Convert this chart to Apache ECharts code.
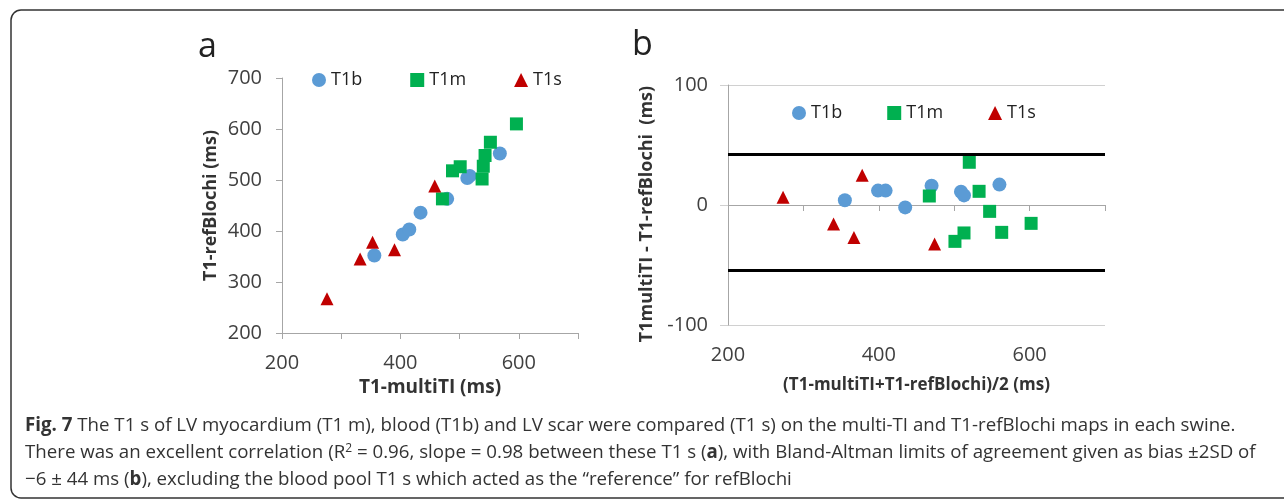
<!DOCTYPE html>
<html>
<head>
<meta charset="utf-8">
<script src="https://cdn.jsdelivr.net/npm/echarts@6/dist/echarts.min.js"></script>
<style>
  html, body { margin: 0; padding: 0; background: #fff; }
  #chart { width: 1284px; height: 500px; }
</style>
</head>
<body>
<div id="chart"></div>
<script>
// panel a: T1-multiTI (x) vs T1-refBlochi (y), ms
const t1bMulti = [356, 404, 415, 434, 479, 513, 517, 568];
const t1bRef = [352, 393, 403, 436, 463, 504, 508, 552];
const t1mMulti = [471, 488, 501, 538, 540, 543, 552, 596];
const t1mRef = [463, 518, 526, 502, 527, 548, 574, 610];
const t1sMulti = [276, 332, 353, 390, 458];
const t1sRef = [267, 345, 378, 363, 488];

// panel b: Bland-Altman, mean (x) vs difference (y), ms
const t1bMean = [355, 399, 409, 435, 470, 509, 513, 560];
const t1bDiff = [4, 12, 12, -2, 16, 11, 8, 17];
const t1mMean = [467, 520, 533, 547, 602, 513, 501, 563];
const t1mDiff = [7.5, 35.6, 11.4, -5.3, -15.3, -23.3, -30.3, -22.8];
const t1sMean = [273, 378, 340, 367, 474];
const t1sDiff = [6.5, 24.7, -15.8, -27, -32.5];
const limitLines = [42, -54];

const seriesNames = ["T1b", "T1m", "T1s"];
const xRangeA = [200, 700];
const yRangeA = [200, 700];
const xRangeB = [200, 700];
const yRangeB = [-100, 100];
const xLabelsA = [200, 400, 600];
const yLabelsA = [200, 300, 400, 500, 600, 700];
const xLabelsB = [200, 400, 600];
const yLabelsB = [-100, 0, 100];

const colors = ["#5B9BD5", "#00B050", "#C00000"];
const symbols = ["circle", "rect", "triangle"];
const sizes = [14, 13, 13];
const FONT = "Open Sans";
const axisGray = "#A6A6A6";
const CAP = 18.7;

const pairs = (xs, ys) => xs.map((x, i) => [x, ys[i]]);
const only = (list) => (v) => (list.indexOf(v) >= 0 ? String(v) : "");

const chart = echarts.init(document.getElementById("chart"));

const labelStyle = { fontFamily: FONT, fontSize: 20, color: "#404040" };
const nameStyle = { fontFamily: FONT, fontSize: 18, fontWeight: "bold", color: "#333" };

const makeScatter = (i, data, xIdx, yIdx, extra) =>
  Object.assign(
    {
      name: seriesNames[i],
      type: "scatter",
      xAxisIndex: xIdx,
      yAxisIndex: yIdx,
      symbol: symbols[i],
      symbolSize: sizes[i],
      itemStyle: { color: colors[i], opacity: 1 },
      data: data,
      silent: true,
    },
    extra || {}
  );

const captionRich = {
  b: { fontFamily: FONT, fontSize: CAP, fontWeight: "bold", fill: "#333" },
  sup: { fontFamily: FONT, fontSize: 12, fill: "#333", verticalAlign: "top", padding: [0, 0, 7, 0] },
};

const captionLine = (top, text) => ({
  type: "text",
  left: 25,
  top: top,
  style: { text: text, fontFamily: FONT, fontSize: CAP, fill: "#333", rich: captionRich },
});

const option = {
  backgroundColor: "#fff",
  animation: false,
  textStyle: { fontFamily: FONT },
  grid: [
    { left: 282, top: 78, width: 296, height: 255 },
    { left: 728, top: 85, width: 377, height: 240 },
  ],
  legend: [
    {
      data: seriesNames,
      left: 312,
      top: 71,
      padding: 0,
      itemWidth: 14,
      itemHeight: 14,
      itemGap: 48,
      textStyle: { fontFamily: FONT, fontSize: 18, color: "#222" },
    },
    {
      data: seriesNames,
      left: 792,
      top: 104,
      padding: 0,
      itemWidth: 14,
      itemHeight: 14,
      itemGap: 45,
      textStyle: { fontFamily: FONT, fontSize: 18, color: "#222" },
    },
  ],
  xAxis: [
    {
      gridIndex: 0,
      type: "value",
      min: xRangeA[0],
      max: xRangeA[1],
      interval: 100,
      axisLine: { show: true, onZero: false, lineStyle: { color: axisGray } },
      axisTick: { show: true, length: 6, lineStyle: { color: axisGray } },
      axisLabel: Object.assign({ margin: 20, formatter: only(xLabelsA) }, labelStyle),
      splitLine: { show: false },
      name: "T1-multiTI (ms)",
      nameLocation: "middle",
      nameGap: 45,
      nameTextStyle: Object.assign({}, nameStyle, { fontSize: 19 }),
    },
    {
      gridIndex: 1,
      type: "value",
      min: xRangeB[0],
      max: xRangeB[1],
      interval: 100,
      axisLine: { show: false, onZero: false },
      axisTick: { show: false },
      axisLabel: Object.assign({ margin: 20, formatter: only(xLabelsB) }, labelStyle),
      splitLine: { show: false },
      name: "(T1-multiTI+T1-refBlochi)/2 (ms)",
      nameLocation: "middle",
      nameGap: 52,
      nameTextStyle: Object.assign({}, nameStyle, { fontSize: 17 }),
    },
    {
      gridIndex: 1,
      type: "value",
      min: xRangeB[0],
      max: xRangeB[1],
      interval: 100,
      axisLine: { show: true, onZero: true, lineStyle: { color: axisGray } },
      axisTick: { show: true, inside: true, length: 6, lineStyle: { color: axisGray } },
      axisLabel: { show: false },
      splitLine: { show: false },
    },
  ],
  yAxis: [
    {
      gridIndex: 0,
      type: "value",
      min: yRangeA[0],
      max: yRangeA[1],
      interval: 100,
      axisLine: { show: true, lineStyle: { color: axisGray } },
      axisTick: { show: true, length: 6, lineStyle: { color: axisGray } },
      axisLabel: Object.assign({ margin: 20, formatter: only(yLabelsA) }, labelStyle),
      splitLine: { show: false },
      name: "T1-refBlochi (ms)",
      nameLocation: "middle",
      nameGap: 62,
      nameTextStyle: nameStyle,
    },
    {
      gridIndex: 1,
      type: "value",
      min: yRangeB[0],
      max: yRangeB[1],
      interval: 100,
      axisLine: { show: true, lineStyle: { color: axisGray } },
      axisTick: { show: true, length: 8, lineStyle: { color: "#D0D0D0" } },
      axisLabel: Object.assign({ margin: 20, formatter: only(yLabelsB) }, labelStyle),
      splitLine: { show: true, lineStyle: { color: "#D0D0D0" } },
      name: "T1multiTI - T1-refBlochi  (ms)",
      nameLocation: "middle",
      nameGap: 72,
      nameTextStyle: Object.assign({}, nameStyle, { padding: [0, 18, 0, 0] }),
    },
  ],
  series: [
    makeScatter(0, pairs(t1bMulti, t1bRef), 0, 0),
    makeScatter(1, pairs(t1mMulti, t1mRef), 0, 0),
    makeScatter(2, pairs(t1sMulti, t1sRef), 0, 0),
    makeScatter(0, pairs(t1bMean, t1bDiff), 2, 1, {
      markLine: {
        silent: true,
        symbol: "none",
        label: { show: false },
        lineStyle: { color: "#000", width: 3, type: "solid" },
        data: limitLines.map((v) => ({ yAxis: v })),
      },
    }),
    makeScatter(1, pairs(t1mMean, t1mDiff), 2, 1),
    makeScatter(2, pairs(t1sMean, t1sDiff), 2, 1),
  ],
  graphic: [
    {
      type: "rect",
      shape: { x: 11, y: 10, width: 1300, height: 488, r: 10 },
      style: { fill: "none", stroke: "#333", lineWidth: 1.5 },
      silent: true,
    },
    {
      type: "text",
      left: 198,
      top: 30,
      style: { text: "a", fontFamily: FONT, fontSize: 34, fill: "#222" },
    },
    {
      type: "text",
      left: 632,
      top: 28,
      style: { text: "b", fontFamily: FONT, fontSize: 34, fill: "#222" },
    },
    captionLine(
      416,
      "{b|Fig. 7} The T1 s of LV myocardium (T1 m), blood (T1b) and LV scar were compared (T1 s) on the multi-TI and T1-refBlochi maps in each swine."
    ),
    captionLine(
      443,
      "There was an excellent correlation (R{sup|2} = 0.96, slope = 0.98 between these T1 s ({b|a}), with Bland-Altman limits of agreement given as bias \u00b12SD of"
    ),
    captionLine(
      470,
      "\u22126 \u00b1 44 ms ({b|b}), excluding the blood pool T1 s which acted as the \u201creference\u201d for refBlochi"
    ),
  ],
};

chart.setOption(option);
</script>
</body>
</html>
